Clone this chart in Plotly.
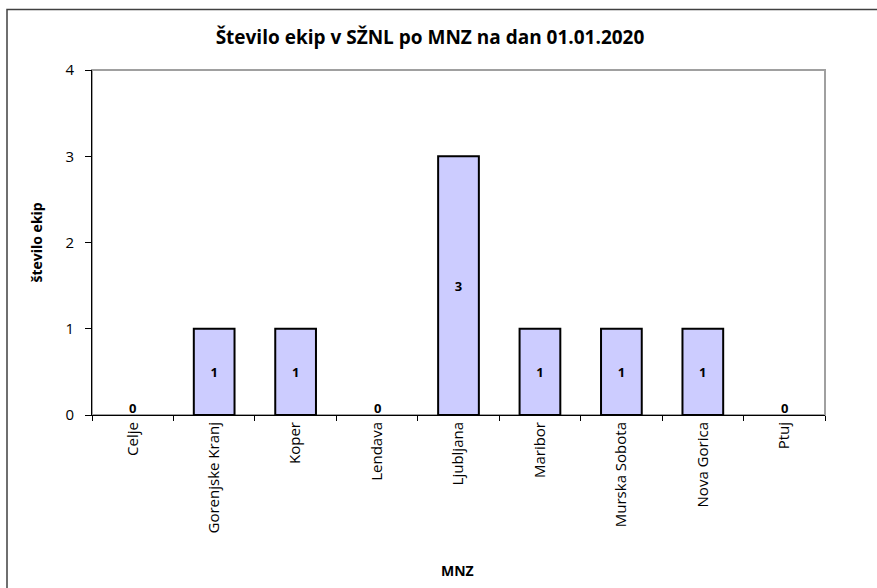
import plotly.graph_objects as go

categories = ["Celje", "Gorenjske Kranj", "Koper", "Lendava", "Ljubljana",
              "Maribor", "Murska Sobota", "Nova Gorica", "Ptuj"]
values = [0, 1, 1, 0, 3, 1, 1, 1, 0]
y_ticks = [0, 1, 2, 3, 4]

title_text = "Število ekip v SŽNL po MNZ na dan 01.01.2020"
y_title = "število ekip"
x_title = "MNZ"

FONT = "Open Sans"
LABEL_FONT = dict(family=FONT, size=13, color="black", weight="bold")

fig = go.Figure()
fig.add_trace(go.Bar(
    x=categories,
    y=values,
    text=["" if v == 0 else str(v) for v in values],
    textposition="inside",
    insidetextanchor="middle",
    textfont=LABEL_FONT,
    constraintext="none",
    marker=dict(color="#CCCCFF",
                line=dict(color="black", width=[0 if v == 0 else 2 for v in values])),
    showlegend=False,
))

# labels for zero-height bars, sitting on the baseline
for c, v in zip(categories, values):
    if v == 0:
        fig.add_annotation(x=c, y=v, xref="x", yref="y", text=str(v),
                           showarrow=False, yanchor="bottom", yshift=-4,
                           font=LABEL_FONT)

L, R, T, B = 92, 52, 70, 173
W, H = 877, 588
pw = W - L - R
ph = H - T - B

# outer chart border (extends past the bottom/right window edges)
fig.add_shape(type="rect", xref="paper", yref="paper",
              x0=(7 - L) / pw, x1=(882 - L) / pw,
              y0=(H - B - 600) / ph, y1=(H - B - 9.5) / ph,
              line=dict(color="#404040", width=1.5), layer="below")
# plot-area border
fig.add_shape(type="rect", xref="paper", yref="paper",
              x0=0, x1=1, y0=0, y1=1,
              line=dict(color="#A0A0A0", width=2), layer="below")

# axis titles
fig.add_annotation(text=y_title, xref="paper", yref="paper",
                   x=(36 - L) / pw, y=0.5, xanchor="center", yanchor="middle",
                   textangle=-90, showarrow=False,
                   font=dict(family=FONT, size=14, color="black", weight="bold"))
fig.add_annotation(text=x_title, xref="paper", yref="paper",
                   x=(457 - L) / pw, y=-(570 - (H - B)) / ph,
                   xanchor="center", yanchor="middle", showarrow=False,
                   font=dict(family=FONT, size=14, color="black", weight="bold"))

fig.update_layout(
    width=W, height=H,
    margin=dict(l=L, r=R, t=T, b=B),
    paper_bgcolor="white", plot_bgcolor="white",
    bargap=0.5,
    title=dict(text=title_text, x=(430 - L) / pw, xref="paper", xanchor="center",
               y=1 - 37 / H, yanchor="middle",
               font=dict(family=FONT, size=19, color="black", weight="bold")),
    font=dict(family=FONT, color="black"),
    xaxis=dict(
        type="category",
        tickangle=-90,
        tickfont=dict(family=FONT, size=15, color="black"),
        showline=True, linecolor="black", linewidth=1,
        ticks="outside", ticklen=5, tickcolor="black",
        tickson="boundaries",
        showgrid=False,
        automargin=False,
    ),
    yaxis=dict(
        range=[0, 4],
        tickvals=y_ticks,
        tickfont=dict(family=FONT, size=15, color="black"),
        showline=True, linecolor="black", linewidth=1,
        ticks="outside", ticklen=6, tickcolor="black",
        ticklabelstandoff=8,
        showgrid=False, zeroline=False,
        automargin=False,
    ),
)

fig.write_html("out.html", config={"displayModeBar": False},
               post_script="document.body.style.margin='0';")
